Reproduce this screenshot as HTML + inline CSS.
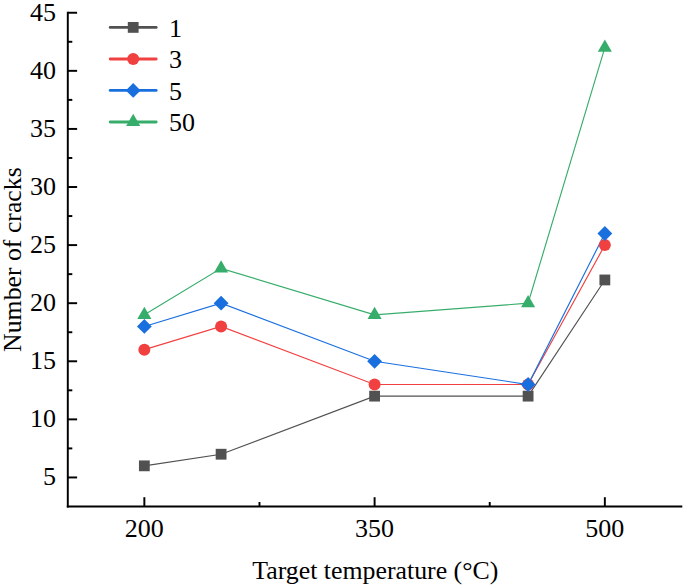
<!DOCTYPE html>
<html lang="en"><head><meta charset="utf-8"><title>Number of cracks vs target temperature</title>
<style>html,body{margin:0;padding:0;background:#fff}svg{display:block}</style></head>
<body>
<svg width="685" height="588" viewBox="0 0 685 588" font-family="'Liberation Serif', serif" font-size="26" fill="#000">
<rect width="685" height="588" fill="#fff"/>
<g stroke="#000" stroke-width="1.95" fill="none" stroke-linecap="butt">
<path d="M67.8,11.78 V507.47"/>
<path d="M66.83,506.5 H682.30"/>
<path d="M67.8,477.46 h9.3"/>
<path d="M67.8,419.37 h9.3"/>
<path d="M67.8,361.28 h9.3"/>
<path d="M67.8,303.19 h9.3"/>
<path d="M67.8,245.10 h9.3"/>
<path d="M67.8,187.01 h9.3"/>
<path d="M67.8,128.93 h9.3"/>
<path d="M67.8,70.84 h9.3"/>
<path d="M67.8,12.75 h9.3"/>
<path d="M67.8,448.41 h4.5"/>
<path d="M67.8,390.32 h4.5"/>
<path d="M67.8,332.24 h4.5"/>
<path d="M67.8,274.15 h4.5"/>
<path d="M67.8,216.06 h4.5"/>
<path d="M67.8,157.97 h4.5"/>
<path d="M67.8,99.88 h4.5"/>
<path d="M67.8,41.79 h4.5"/>
<path d="M144.35,506.5 v-9.3"/>
<path d="M374.60,506.5 v-9.3"/>
<path d="M604.85,506.5 v-9.3"/>
<path d="M259.48,506.5 v-4.5"/>
<path d="M489.73,506.5 v-4.5"/>
</g>
<text x="56" y="485.46" text-anchor="end">5</text>
<text x="56" y="427.37" text-anchor="end">10</text>
<text x="56" y="369.28" text-anchor="end">15</text>
<text x="56" y="311.19" text-anchor="end">20</text>
<text x="56" y="253.10" text-anchor="end">25</text>
<text x="56" y="195.01" text-anchor="end">30</text>
<text x="56" y="136.93" text-anchor="end">35</text>
<text x="56" y="78.84" text-anchor="end">40</text>
<text x="56" y="20.75" text-anchor="end">45</text>
<text x="144.35" y="537.1" text-anchor="middle">200</text>
<text x="374.60" y="537.1" text-anchor="middle">350</text>
<text x="604.85" y="537.1" text-anchor="middle">500</text>
<text x="375.3" y="579" text-anchor="middle" textLength="246" lengthAdjust="spacingAndGlyphs">Target temperature (°C)</text>
<text transform="translate(20.5,259.6) rotate(-90)" text-anchor="middle" textLength="184.6" lengthAdjust="spacingAndGlyphs">Number of cracks</text>
<polyline points="144.35,465.84 221.10,454.22 374.60,396.13 528.10,396.13 604.85,279.96" fill="none" stroke="#515151" stroke-width="1.15"/>
<polyline points="144.35,349.66 221.10,326.43 374.60,384.51 528.10,384.51 604.85,245.10" fill="none" stroke="#F14040" stroke-width="1.15"/>
<polyline points="144.35,326.43 221.10,303.19 374.60,361.28 528.10,384.51 604.85,233.49" fill="none" stroke="#1A6FDF" stroke-width="1.15"/>
<polyline points="144.35,314.81 221.10,268.34 374.60,314.81 528.10,303.19 604.85,47.60" fill="none" stroke="#37AD6B" stroke-width="1.15"/>
<rect x="138.95" y="460.44" width="10.80" height="10.80" fill="#515151"/>
<rect x="215.70" y="448.82" width="10.80" height="10.80" fill="#515151"/>
<rect x="369.20" y="390.73" width="10.80" height="10.80" fill="#515151"/>
<rect x="522.70" y="390.73" width="10.80" height="10.80" fill="#515151"/>
<rect x="599.45" y="274.56" width="10.80" height="10.80" fill="#515151"/>
<circle cx="144.35" cy="349.66" r="6.0" fill="#F14040"/>
<circle cx="221.10" cy="326.43" r="6.0" fill="#F14040"/>
<circle cx="374.60" cy="384.51" r="6.0" fill="#F14040"/>
<circle cx="528.10" cy="384.51" r="6.0" fill="#F14040"/>
<circle cx="604.85" cy="245.10" r="6.0" fill="#F14040"/>
<polygon points="144.35,319.03 151.75,326.43 144.35,333.83 136.95,326.43" fill="#1A6FDF"/>
<polygon points="221.10,295.79 228.50,303.19 221.10,310.59 213.70,303.19" fill="#1A6FDF"/>
<polygon points="374.60,353.88 382.00,361.28 374.60,368.68 367.20,361.28" fill="#1A6FDF"/>
<polygon points="528.10,377.11 535.50,384.51 528.10,391.91 520.70,384.51" fill="#1A6FDF"/>
<polygon points="604.85,226.09 612.25,233.49 604.85,240.89 597.45,233.49" fill="#1A6FDF"/>
<polygon points="144.35,306.67 151.40,318.88 137.30,318.88" fill="#37AD6B"/>
<polygon points="221.10,260.20 228.15,272.41 214.05,272.41" fill="#37AD6B"/>
<polygon points="374.60,306.67 381.65,318.88 367.55,318.88" fill="#37AD6B"/>
<polygon points="528.10,295.05 535.15,307.26 521.05,307.26" fill="#37AD6B"/>
<polygon points="604.85,39.46 611.90,51.67 597.80,51.67" fill="#37AD6B"/>
<path d="M110.2,27.4 H156.2" stroke="#515151" stroke-width="2.8" stroke-linecap="round" fill="none"/>
<rect x="127.80" y="22.00" width="10.80" height="10.80" fill="#515151"/>
<text x="169" y="36.60">1</text>
<path d="M110.2,59 H156.2" stroke="#F14040" stroke-width="2.8" stroke-linecap="round" fill="none"/>
<circle cx="133.20" cy="59.00" r="6.0" fill="#F14040"/>
<text x="169" y="68.20">3</text>
<path d="M110.2,90.4 H156.2" stroke="#1A6FDF" stroke-width="2.8" stroke-linecap="round" fill="none"/>
<polygon points="133.20,83.00 140.60,90.40 133.20,97.80 125.80,90.40" fill="#1A6FDF"/>
<text x="169" y="99.60">5</text>
<path d="M110.2,122.0 H156.2" stroke="#37AD6B" stroke-width="2.8" stroke-linecap="round" fill="none"/>
<polygon points="133.20,113.86 140.25,126.07 126.15,126.07" fill="#37AD6B"/>
<text x="169" y="131.20">50</text>
</svg>
</body></html>
